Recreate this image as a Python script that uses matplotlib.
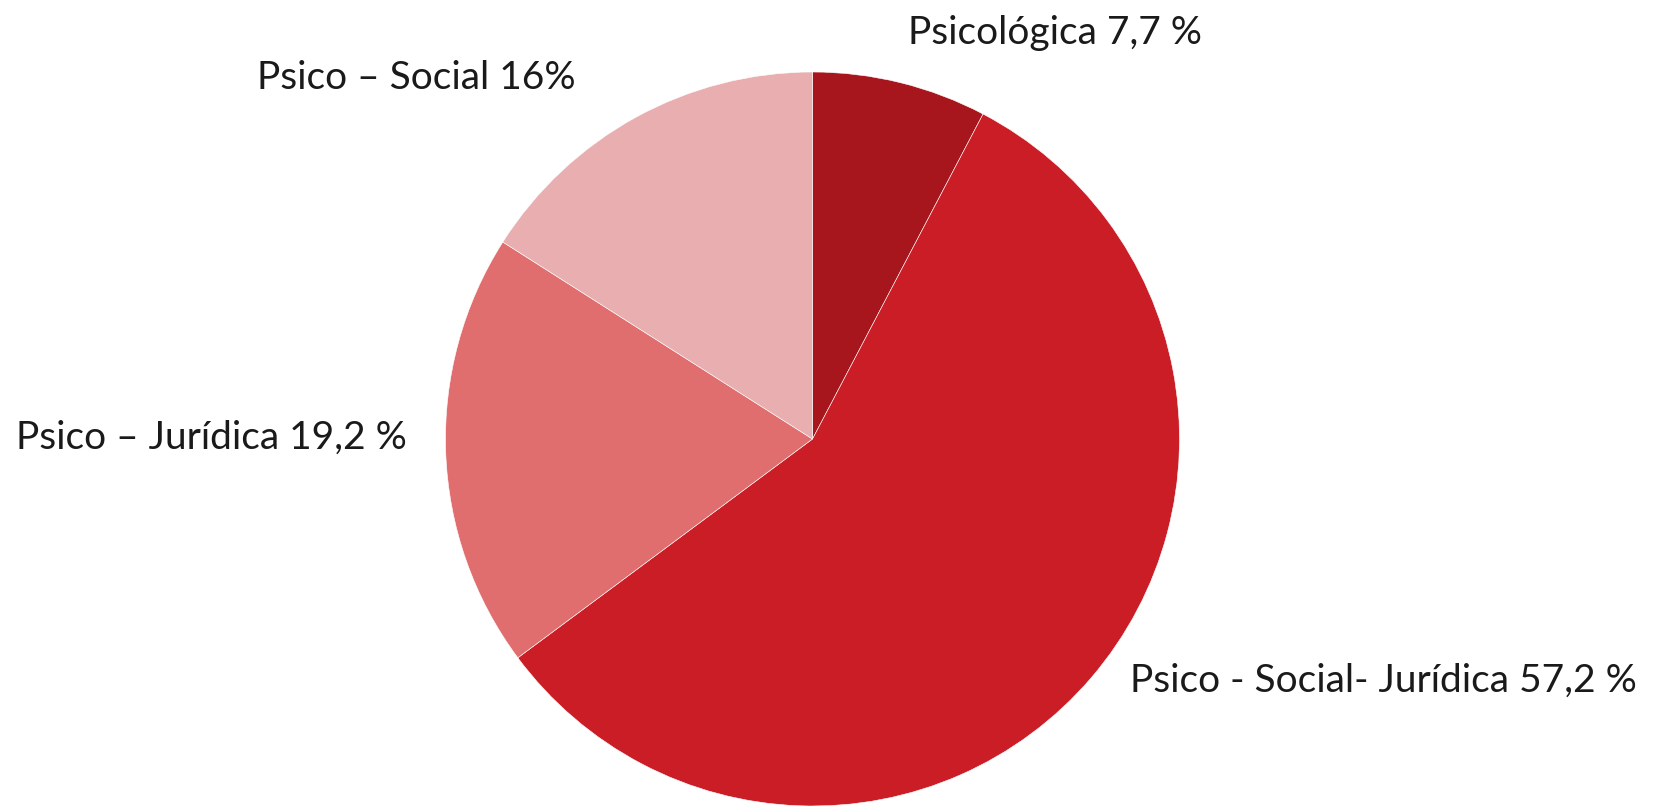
import matplotlib.pyplot as plt

labels = ["Psicológica 7,7 %", "Psico - Social- Jurídica 57,2 %",
          "Psico – Jurídica 19,2 %", "Psico – Social 16%"]
values = [7.7, 57.2, 19.2, 16.0]
colors = ["#A8161D", "#CB1D25", "#E06E6F", "#E8AEB0"]

W, H = 1659, 806
fig = plt.figure(figsize=(W / 100, H / 100), dpi=100)
ax = fig.add_axes([0, 0, 1, 1])
ax.set_xlim(0, W)
ax.set_ylim(0, H)
ax.set_aspect("equal")
ax.axis("off")

cx, cy, r = 812.5, H - 439, 367
ax.pie(values, colors=colors, startangle=90, counterclock=False,
       center=(cx, cy), radius=r, normalize=True,
       wedgeprops=dict(edgecolor="white", linewidth=0.4))
ax.set_xlim(0, W)
ax.set_ylim(0, H)

fs = 28
# label positions (left x, center y) in pixel space
pos = [(908, H - 33), (1130, H - 681), (16, H - 438), (257, H - 78)]
for lab, (x, y) in zip(labels, pos):
    ax.text(x, y, lab, fontsize=fs, ha="left", va="center",
            color="#1a1a1a", family=["Lato", "DejaVu Sans"],
            fontweight="normal")

fig.savefig("out.png", dpi=100)
